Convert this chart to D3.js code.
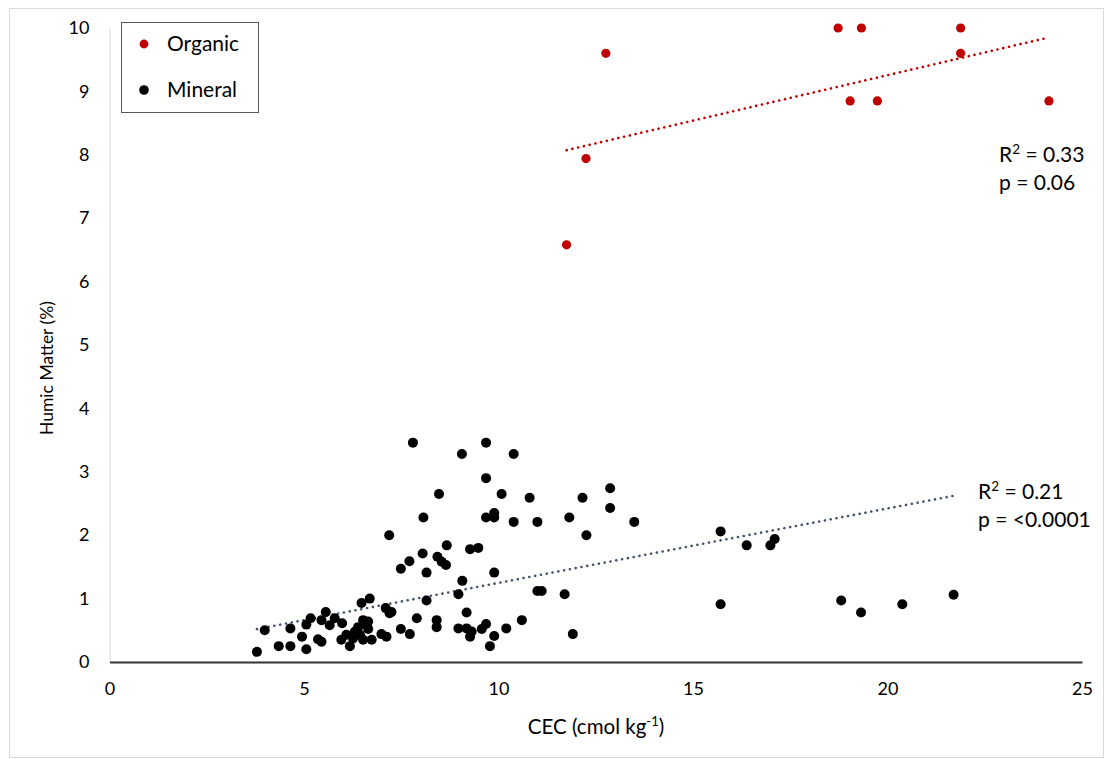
<!DOCTYPE html>
<html>
<head>
<meta charset="utf-8">
<script src="https://cdn.jsdelivr.net/npm/d3@7"></script>
<style>
  html, body { margin: 0; padding: 0; background: #fff; }
  svg { display: block; font-family: Lato, "Noto Sans", sans-serif; }
</style>
</head>
<body>
<svg id="chart" width="1105" height="759"></svg>
<script>
// ---- data ----
const organicCEC = [11.75, 12.25, 12.76, 18.73, 19.33, 19.04, 19.74, 21.88, 21.88, 24.15];
const organicHM  = [6.58, 7.94, 9.60, 10.0, 10.0, 8.85, 8.85, 10.0, 9.60, 8.85];

const mineralCEC = [3.79,3.99,4.35,4.65,4.65,4.95,5.06,5.06,5.17,5.36,5.45,5.56,5.45,5.66,5.79,5.98,5.96,6.09,6.18,6.31,
  6.39,6.52,6.61,6.48,6.69,6.52,6.74,6.65,6.99,7.12,7.10,7.25,7.20,7.49,7.72,7.90,7.49,7.71,8.05,8.15,
  8.15,8.43,8.41,8.41,7.80,9.68,9.06,10.39,9.68,8.47,10.08,10.80,8.07,9.68,9.89,9.89,10.39,11.00,11.82,12.16,
  12.87,12.87,12.26,8.67,9.27,9.48,8.54,8.65,9.89,9.07,8.97,11.00,11.11,11.70,9.18,8.97,9.18,9.27,9.57,9.68,
  9.89,9.78,10.20,10.60,11.91,13.49,15.71,16.38,16.99,17.10,15.71,18.81,19.32,20.38,21.70,7.19,9.31,6.44,6.26,6.65];
const mineralHM = [0.16,0.50,0.25,0.25,0.53,0.40,0.20,0.59,0.69,0.36,0.32,0.79,0.66,0.58,0.69,0.61,0.35,0.43,0.25,0.48,
  0.55,0.66,0.58,0.93,1.00,0.35,0.35,0.52,0.44,0.40,0.85,0.79,0.77,0.52,0.44,0.69,1.47,1.59,1.71,1.41,
  0.97,1.66,0.66,0.55,3.46,3.46,3.28,3.28,2.90,2.65,2.65,2.59,2.28,2.28,2.35,2.28,2.21,2.21,2.28,2.59,
  2.74,2.43,2.00,1.84,1.78,1.80,1.58,1.53,1.41,1.28,1.07,1.12,1.12,1.07,0.78,0.53,0.53,0.40,0.52,0.60,
  0.41,0.25,0.53,0.66,0.44,2.21,2.06,1.84,1.84,1.94,0.91,0.97,0.78,0.91,1.06,2.00,0.48,0.43,0.37,0.64];

// linear trend lines: [intercept, slope]
const organicTrend = [6.388, 0.1434];
const mineralTrend = [0.074, 0.1174];

const xTicks = [0, 5, 10, 15, 20, 25];
const yTicks = [0, 1, 2, 3, 4, 5, 6, 7, 8, 9, 10];
const seriesNames = ["Organic", "Mineral"];
const annotOrganic = ["0.33", "p = 0.06"];
const annotMineral = ["0.21", "p = <0.0001"];

// ---- layout ----
const svg = d3.select("#chart");
const colOrg = "#C00000", colMin = "#000000", colMinTrend = "#44546A";

svg.append("rect").attr("x", 9.5).attr("y", 8.5).attr("width", 1094).attr("height", 749)
  .attr("fill", "#fff").attr("stroke", "#d9d9d9");

const x = d3.scaleLinear().domain([0, 25]).range([109.5, 1082]);
const y = d3.scaleLinear().domain([0, 10]).range([662, 28]);

// y axis
const yAxis = d3.axisLeft(y).tickValues(yTicks).tickSize(0).tickPadding(20).tickFormat(d3.format("d"));
const gy = svg.append("g").attr("transform", "translate(109.5,0)").call(yAxis);
gy.select(".domain").attr("stroke", "#d9d9d9").attr("stroke-width", 1);
gy.selectAll("text").attr("font-size", 18).attr("fill", "#000").attr("font-family", "Lato");

// x axis
const xAxis = d3.axisBottom(x).tickValues(xTicks).tickSize(0).tickPadding(20).tickFormat(d3.format("d"));
const gx = svg.append("g").attr("transform", "translate(0,662)").call(xAxis);
gx.select(".domain").attr("stroke", "#333333").attr("stroke-width", 2);
gx.selectAll("text").attr("font-size", 18).attr("fill", "#000").attr("font-family", "Lato");

// axis titles
const xt = svg.append("text").attr("x", 596).attr("y", 734).attr("text-anchor", "middle")
  .attr("font-size", 20.5).attr("fill", "#000");
xt.append("tspan").text("CEC (cmol kg");
xt.append("tspan").attr("font-size", 13).attr("dy", -8).text("-1");
xt.append("tspan").attr("dy", 8).text(")");

svg.append("text").attr("transform", "translate(53,368) rotate(-90)").attr("text-anchor", "middle")
  .attr("font-size", 17.5).attr("fill", "#000").text("Humic Matter (%)");

// trend lines
function trendLine(coef, xs, color) {
  const x0 = d3.min(xs), x1 = d3.max(xs);
  const pts = [[x0, coef[0] + coef[1] * x0], [x1, coef[0] + coef[1] * x1]];
  svg.append("path")
    .attr("d", d3.line().x(d => x(d[0])).y(d => y(d[1]))(pts))
    .attr("fill", "none").attr("stroke", color).attr("stroke-width", 2.6)
    .attr("stroke-linecap", "round").attr("stroke-dasharray", "0.1 5.8");
}
trendLine(mineralTrend, mineralCEC, colMinTrend);
trendLine(organicTrend, organicCEC, colOrg);

// points
const mineral = mineralCEC.map((v, i) => [v, mineralHM[i]]);
const organic = organicCEC.map((v, i) => [v, organicHM[i]]);
svg.append("g").selectAll("circle").data(mineral).join("circle")
  .attr("cx", d => x(d[0])).attr("cy", d => y(d[1])).attr("r", 5).attr("fill", colMin);
svg.append("g").selectAll("circle").data(organic).join("circle")
  .attr("cx", d => x(d[0])).attr("cy", d => y(d[1])).attr("r", 4.6).attr("fill", colOrg);

// annotations
function annot(lines, ax, ay) {
  const t1 = svg.append("text").attr("x", ax).attr("y", ay).attr("font-size", 21).attr("fill", "#000");
  t1.append("tspan").text("R");
  t1.append("tspan").attr("font-size", 13.5).attr("dy", -8).text("2");
  t1.append("tspan").attr("dy", 8).text(" = " + lines[0]);
  svg.append("text").attr("x", ax).attr("y", ay + 28).attr("font-size", 21).attr("fill", "#000").text(lines[1]);
}
annot(annotOrganic, 999, 162);
annot(annotMineral, 978, 499);

// legend
const lg = svg.append("g");
lg.append("rect").attr("x", 121.5).attr("y", 22.5).attr("width", 137).attr("height", 90)
  .attr("fill", "#fff").attr("stroke", "#595959").attr("stroke-width", 1);
const lgColors = [colOrg, colMin];
const lgR = [4.4, 4.8];
seriesNames.forEach((name, i) => {
  const cy = 44 + i * 46;
  lg.append("circle").attr("cx", 144).attr("cy", cy).attr("r", lgR[i]).attr("fill", lgColors[i]);
  lg.append("text").attr("x", 167).attr("y", cy + 7).attr("font-size", 21).attr("fill", "#000").text(name);
});
</script>
</body>
</html>
